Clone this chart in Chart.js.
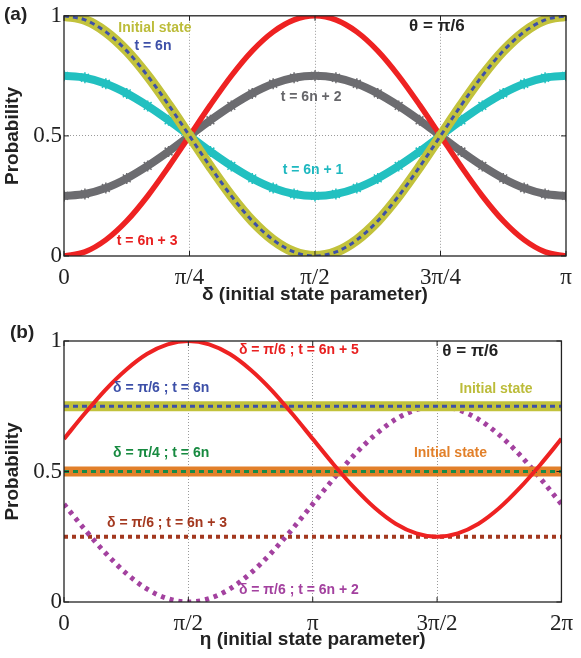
<!DOCTYPE html>
<html>
<head>
<meta charset="utf-8">
<script src="https://cdn.jsdelivr.net/npm/chart.js@4.4.1/dist/chart.umd.min.js"></script>
<style>
  body { margin: 0; background: #fff; }
  #wrap { position: relative; width: 581px; height: 658px; }
  canvas { position: absolute; left: 0; }
  #chartA { top: 0; }
  #chartB { top: 305px; }
</style>
</head>
<body>
<div id="wrap">
  <canvas id="chartA" width="581" height="310"></canvas>
  <canvas id="chartB" width="581" height="353"></canvas>
</div>
<script>
// panel (a): delta in degrees, probabilities
const delta = [0, 7.5, 15, 22.5, 30, 37.5, 45, 52.5, 60, 67.5, 75, 82.5, 90,
               97.5, 105, 112.5, 120, 127.5, 135, 142.5, 150, 157.5, 165, 172.5, 180];
const initialA = [1, .983, .933, .854, .75, .629, .5, .371, .25, .146, .067, .017, 0,
                  .017, .067, .146, .25, .371, .5, .629, .75, .854, .933, .983, 1];
const t6n = [1, .983, .933, .854, .75, .629, .5, .371, .25, .146, .067, .017, 0,
             .017, .067, .146, .25, .371, .5, .629, .75, .854, .933, .983, 1];
const t6n1 = [.75, .742, .717, .677, .625, .565, .5, .435, .375, .323, .283, .258, .25,
              .258, .283, .323, .375, .435, .5, .565, .625, .677, .717, .742, .75];
const t6n2 = [.25, .258, .283, .323, .375, .435, .5, .565, .625, .677, .717, .742, .75,
              .742, .717, .677, .625, .565, .5, .435, .375, .323, .283, .258, .25];
const t6n3 = [0, .017, .067, .146, .25, .371, .5, .629, .75, .854, .933, .983, 1,
              .983, .933, .854, .75, .629, .5, .371, .25, .146, .067, .017, 0];
const deltaTicks = ['0', 'π/4', 'π/2', '3π/4', 'π'];

// panel (b): eta in degrees
const eta = [0, 15, 30, 45, 60, 75, 90, 105, 120, 135, 150, 165, 180,
             195, 210, 225, 240, 255, 270, 285, 300, 315, 330, 345, 360];
const t6n5Pi6 = [.625, .722, .813, .890, .950, .987, 1, .987, .950, .890, .813, .722, .625,
                 .528, .438, .360, .300, .263, .25, .263, .300, .360, .438, .528, .625];
const t6n2Pi6 = [.375, .278, .188, .110, .050, .013, 0, .013, .050, .110, .188, .278, .375,
                 .472, .563, .640, .700, .737, .75, .737, .700, .640, .563, .472, .375];
const etaEnds = [0, 360];
const initialPi6 = [.75, .75];
const t6nPi6 = [.75, .75];
const initialPi4 = [.5, .5];
const t6nPi4 = [.5, .5];
const t6n3Pi6 = [.25, .25];
const etaTicks = ['0', 'π/2', 'π', '3π/2', '2π'];

const probTicks = {0: '0', 0.5: '0.5', 1: '1'};

function pts(xs, ys) {
  return xs.map((x, i) => ({x: x, y: ys[i]}));
}

const sansBold = "bold 14px 'Liberation Sans', Arial, sans-serif";

// frame, inner ticks and text notes
const notesPlugin = {
  id: 'notes',
  afterDraw(chart, args, opts) {
    const {ctx, chartArea: a, scales} = chart;
    ctx.save();
    ctx.strokeStyle = '#222';
    ctx.lineWidth = 1.3;
    ctx.strokeRect(a.left, a.top, a.right - a.left, a.bottom - a.top);
    ctx.lineWidth = 1;
    scales.x.ticks.forEach(t => {
      const px = scales.x.getPixelForValue(t.value);
      ctx.beginPath();
      ctx.moveTo(px, a.bottom); ctx.lineTo(px, a.bottom - 5);
      ctx.moveTo(px, a.top); ctx.lineTo(px, a.top + 5);
      ctx.stroke();
    });
    scales.y.ticks.forEach(t => {
      const py = scales.y.getPixelForValue(t.value);
      ctx.beginPath();
      ctx.moveTo(a.left, py); ctx.lineTo(a.left + 5, py);
      ctx.moveTo(a.right, py); ctx.lineTo(a.right - 5, py);
      ctx.stroke();
    });
    ctx.textAlign = 'center';
    ctx.textBaseline = 'middle';
    opts.items.forEach(n => {
      ctx.font = n.font || sansBold;
      ctx.fillStyle = n.color;
      ctx.fillText(n.text, scales.x.getPixelForValue(n.x), scales.y.getPixelForValue(n.y));
    });
    ctx.font = "bold 19px 'Liberation Sans', Arial, sans-serif";
    ctx.fillStyle = '#222';
    ctx.textAlign = 'left';
    ctx.fillText(opts.panel, opts.panelX, opts.panelY);
    ctx.restore();
  }
};

function makeOptions(xMax, tickLabels, title, xHeight, padTop, titlePad, notes) {
  return {
    responsive: false,
    animation: false,
    layout: {padding: {top: padTop, right: 15, left: 0, bottom: 0}},
    plugins: {legend: {display: false}, tooltip: {enabled: false}, notes: notes},
    scales: {
      x: {
        type: 'linear', min: 0, max: xMax,
        afterFit: s => { s.height = xHeight; },
        ticks: {
          stepSize: xMax / 4, autoSkip: false, maxRotation: 0, padding: 8,
          color: '#222', font: {family: "'Liberation Serif', 'Times New Roman', serif", size: 23},
          callback: v => tickLabels[Math.round(v / (xMax / 4))]
        },
        grid: {
          drawTicks: false, lineWidth: 1,
          color: c => (c.index === 0 || c.index === 4) ? 'rgba(0,0,0,0)' : '#9a9a9a'
        },
        border: {display: false, dash: [1, 2]},
        title: {
          display: true, text: title, color: '#222', padding: {top: 0, bottom: titlePad},
          font: {family: "'Liberation Sans', Arial, sans-serif", size: 19, weight: 'bold'}
        }
      },
      y: {
        min: 0, max: 1,
        afterFit: s => { s.width = 64; },
        ticks: {
          stepSize: 0.5, padding: 2, color: '#222',
          font: {family: "'Liberation Serif', 'Times New Roman', serif", size: 23},
          callback: v => probTicks[v]
        },
        grid: {
          drawTicks: false, lineWidth: 1,
          color: c => (c.index === 1) ? '#9a9a9a' : 'rgba(0,0,0,0)'
        },
        border: {display: false, dash: [1, 2]},
        title: {
          display: true, text: 'Probability', color: '#222', padding: {top: 1, bottom: 0},
          font: {family: "'Liberation Sans', Arial, sans-serif", size: 19, weight: 'bold'}
        }
      }
    }
  };
}

const lineBase = {pointRadius: 0, fill: false, cubicInterpolationMode: 'monotone', borderCapStyle: 'butt'};

new Chart(document.getElementById('chartA'), {
  type: 'line',
  data: {
    datasets: [
      Object.assign({}, lineBase, {label: 't = 6n', data: pts(delta, t6n), borderColor: '#3d50a8', borderWidth: 3, borderDash: [5, 4]}),
      Object.assign({}, lineBase, {label: 'Initial state', data: pts(delta, initialA), borderColor: '#c2c23c', borderWidth: 10}),
      Object.assign({}, lineBase, {label: 't = 6n + 1', data: pts(delta, t6n1), borderColor: '#22c0c0', borderWidth: 8,
        pointRadius: 5.5, pointStyle: 'star', pointBorderColor: '#22c0c0', pointBorderWidth: 1.5}),
      Object.assign({}, lineBase, {label: 't = 6n + 3', data: pts(delta, t6n3), borderColor: '#ee2222', borderWidth: 5.5}),
      Object.assign({}, lineBase, {label: 't = 6n + 2', data: pts(delta, t6n2), borderColor: '#6c6c70', borderWidth: 8,
        pointRadius: 5.5, pointStyle: 'star', pointBorderColor: '#6c6c70', pointBorderWidth: 1.5})
    ]
  },
  options: makeOptions(180, deltaTicks, 'δ (initial state parameter)', 54, 9, 4, {
    panel: '(a)', panelX: 4, panelY: 15,
    items: [
      {text: 'Initial state', color: '#bcbc3a', x: 32.6, y: 0.947},
      {text: 't = 6n', color: '#3d50a8', x: 31.9, y: 0.874},
      {text: 'θ = π/6', color: '#222', x: 133.7, y: 0.955, font: "bold 17px 'Liberation Sans', Arial, sans-serif"},
      {text: 't = 6n + 2', color: '#66666a', x: 88.6, y: 0.66},
      {text: 't = 6n + 1', color: '#1fb8c0', x: 89.3, y: 0.356},
      {text: 't = 6n + 3', color: '#e82020', x: 29.8, y: 0.061}
    ]
  }),
  plugins: [notesPlugin]
});

new Chart(document.getElementById('chartB'), {
  type: 'line',
  data: {
    datasets: [
      Object.assign({}, lineBase, {label: 'δ = π/6 ; t = 6n + 5', data: pts(eta, t6n5Pi6), borderColor: '#ee2222', borderWidth: 4}),
      Object.assign({}, lineBase, {label: 'δ = π/6 ; t = 6n', data: pts(etaEnds, t6nPi6), borderColor: '#3d50a8', borderWidth: 3, borderDash: [5, 4]}),
      Object.assign({}, lineBase, {label: 'δ = π/4 ; t = 6n', data: pts(etaEnds, t6nPi4), borderColor: '#178a48', borderWidth: 3, borderDash: [5, 4]}),
      Object.assign({}, lineBase, {label: 'Initial state (δ = π/6)', data: pts(etaEnds, initialPi6), borderColor: '#c2c23c', borderWidth: 10}),
      Object.assign({}, lineBase, {label: 'Initial state (δ = π/4)', data: pts(etaEnds, initialPi4), borderColor: '#e2802a', borderWidth: 10}),
      Object.assign({}, lineBase, {label: 'δ = π/6 ; t = 6n + 2', data: pts(eta, t6n2Pi6), borderColor: '#a3419f', borderWidth: 5, borderDash: [4, 5]}),
      Object.assign({}, lineBase, {label: 'δ = π/6 ; t = 6n + 3', data: pts(etaEnds, t6n3Pi6), borderColor: '#a3381f', borderWidth: 4, borderDash: [4, 4]})
    ]
  },
  options: makeOptions(360, etaTicks, 'η (initial state parameter)', 56, 36, 7, {
    panel: '(b)', panelX: 10, panelY: 28,
    items: [
      {text: 'δ = π/6 ; t = 6n + 5', color: '#e82020', x: 170, y: 0.966},
      {text: 'θ = π/6', color: '#222', x: 294, y: 0.962, font: "bold 17px 'Liberation Sans', Arial, sans-serif"},
      {text: 'Initial state', color: '#bcbc3a', x: 312.7, y: 0.816},
      {text: 'δ = π/6 ; t = 6n', color: '#3d50a8', x: 70.3, y: 0.82},
      {text: 'δ = π/4 ; t = 6n', color: '#178a40', x: 70.3, y: 0.571},
      {text: 'Initial state', color: '#e2802a', x: 279.7, y: 0.571},
      {text: 'δ = π/6 ; t = 6n + 3', color: '#a3381f', x: 74.6, y: 0.303},
      {text: 'δ = π/6 ; t = 6n + 2', color: '#a3419f', x: 170, y: 0.046}
    ]
  }),
  plugins: [notesPlugin]
});
</script>
</body>
</html>
